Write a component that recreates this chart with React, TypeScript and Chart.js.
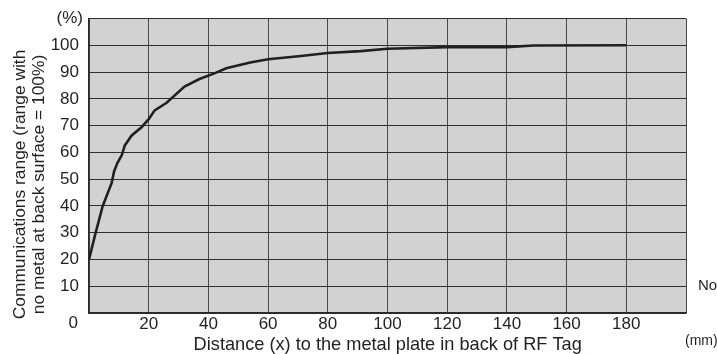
import React, { useEffect, useRef } from "react";
import { Chart, registerables } from "chart.js";

Chart.register(...registerables);

// Data
const distanceMm = [0, 2, 4.6, 7.6, 8.4, 9.5, 11, 12, 14.3, 17.6, 20, 22, 26, 32, 37, 42, 46, 54, 60, 71, 80, 91, 100, 120, 140, 149, 180];
const rangePct = [20, 29, 40, 48.6, 52.9, 56, 59, 62.6, 66.3, 69.4, 72.4, 75.7, 78.5, 84.6, 87.4, 89.5, 91.4, 93.6, 94.8, 96, 97.1, 97.8, 98.7, 99.3, 99.3, 99.9, 100];

const xTickLabels = [20, 40, 60, 80, 100, 120, 140, 160, 180];
const yTickLabels = [10, 20, 30, 40, 50, 60, 70, 80, 90, 100];

const yTitleLines = ["Communications range (range with", "no metal at back surface = 100%)"];
const xTitle = "Distance (x) to the metal plate in back of RF Tag";
const yUnit = "(%)";
const xUnit = "(mm)";
const zeroLabel = "0";
const sideNote = "No metal";

const FONT = "'Liberation Sans', Arial, Helvetica, sans-serif";
const TEXT = "#231f20";

const extras = {
  id: "extras",
  beforeDraw(chart: any) {
    const { ctx, chartArea } = chart;
    ctx.save();
    ctx.fillStyle = "#d1d2d4";
    ctx.fillRect(chartArea.left, chartArea.top, chartArea.right - chartArea.left, chartArea.bottom - chartArea.top);
    ctx.restore();
  },
  afterDraw(chart: any) {
    const { ctx } = chart;
    ctx.save();
    ctx.fillStyle = TEXT;
    // y-axis title (rotated, two lines)
    ctx.font = `17.4px ${FONT}`;
    ctx.textAlign = "center";
    ctx.textBaseline = "alphabetic";
    ctx.save();
    ctx.translate(25, 184.5);
    ctx.rotate(-Math.PI / 2);
    ctx.fillText(yTitleLines[0], 0, 0);
    ctx.fillText(yTitleLines[1], 0, 18.5);
    ctx.restore();
    // x-axis title
    ctx.font = `18.2px ${FONT}`;
    ctx.textAlign = "center";
    ctx.fillText(xTitle, 387.7, 350);
    // unit labels
    ctx.font = `17px ${FONT}`;
    ctx.textAlign = "right";
    ctx.textBaseline = "middle";
    ctx.fillText(yUnit, 83, 18.5);
    ctx.fillText(zeroLabel, 78, 323.5);
    ctx.font = `14px ${FONT}`;
    ctx.textAlign = "left";
    ctx.fillText(xUnit, 685, 341);
    ctx.font = `15px ${FONT}`;
    ctx.fillText(sideNote, 698, 285.5);
    ctx.restore();
  },
};

export default function App() {
  const ref = useRef<HTMLCanvasElement | null>(null);

  useEffect(() => {
    if (!ref.current) return;
    const chart = new Chart(ref.current, {
      type: "line",
      data: {
        datasets: [
          {
            data: distanceMm.map((x, i) => ({ x, y: rangePct[i] })),
            borderColor: "#231f20",
            borderWidth: 2.6,
            pointRadius: 0,
            tension: 0,
            fill: false,
          },
        ],
      },
      options: {
        animation: false,
        responsive: false,
        devicePixelRatio: 1,
        layout: { padding: { left: 0, top: 13, right: 31, bottom: 0 } },
        plugins: { legend: { display: false }, tooltip: { enabled: false }, title: { display: false } },
        scales: {
          x: {
            type: "linear",
            min: 0,
            max: 200,
            afterFit: (s: any) => {
              s.height = 41;
            },
            afterBuildTicks: (s: any) => {
              s.ticks = [0, ...xTickLabels, 200].map((v) => ({ value: v }));
            },
            ticks: {
              color: TEXT,
              font: { family: FONT, size: 17, lineHeight: 1 },
              padding: 2.5,
              maxRotation: 0,
              autoSkip: false,
              callback: (v: any) => (xTickLabels.includes(Number(v)) ? String(v) : ""),
            },
            grid: { color: "#4a4a4a", lineWidth: 1, drawTicks: false },
            border: { display: true, color: "#2a2a2a", width: 1.5 },
          },
          y: {
            type: "linear",
            min: 0,
            max: 110,
            afterFit: (s: any) => {
              s.width = 89;
            },
            afterBuildTicks: (s: any) => {
              s.ticks = [0, ...yTickLabels, 110].map((v) => ({ value: v }));
            },
            ticks: {
              color: TEXT,
              font: { family: FONT, size: 17, lineHeight: 1 },
              padding: 10,
              autoSkip: false,
              callback: (v: any) => (yTickLabels.includes(Number(v)) ? String(v) : ""),
            },
            grid: { color: "#2e2e2e", lineWidth: 1, drawTicks: false },
            border: { display: true, color: "#2a2a2a", width: 1.5 },
          },
        },
      },
      plugins: [extras],
    });
    return () => chart.destroy();
  }, []);

  return (
    <div style={{ position: "fixed", left: 0, top: 0, width: 717, height: 354, background: "#fff" }}>
      <canvas ref={ref} width={717} height={354} style={{ display: "block", width: 717, height: 354 }} />
    </div>
  );
}
